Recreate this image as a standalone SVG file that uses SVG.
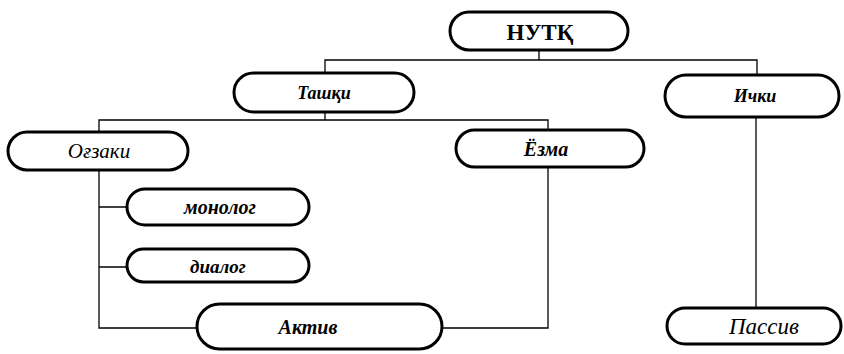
<svg xmlns="http://www.w3.org/2000/svg" width="844" height="354" viewBox="0 0 844 354">
  <style>
    .box { fill: #fff; stroke: #000; stroke-width: 3; }
    .lbl { font-family: "Liberation Serif", "Times New Roman", serif; font-style: italic; font-weight: bold; font-size: 18px; fill: #000; text-anchor: middle; dominant-baseline: central; }
    .lnk { fill: none; stroke: #000; stroke-width: 1.3; }
  </style>
  <rect width="844" height="354" fill="#fff"/>

  <g id="connectors">
    <path class="lnk" d="M539 50 V60 M325 73 V60 H757 V75"/>
    <path class="lnk" d="M325 112 V120 M99 132 V120 H548 V130"/>
    <path class="lnk" d="M99 170 V328 H197 M99 207 H127 M99 267 H127"/>
    <path class="lnk" d="M548 167 V328 H442"/>
    <path class="lnk" d="M756 117 V308"/>
  </g>

  <g id="n-nutq">
    <rect class="box" x="450" y="12" width="178" height="38" rx="19"/>
    <text class="lbl" x="540" y="32" style="font-style:normal;font-size:23px">НУТҚ</text>
  </g>
  <g id="n-tashqi">
    <rect class="box" x="234" y="73" width="180" height="39" rx="19.5"/>
    <text class="lbl" x="324" y="93">Ташқи</text>
  </g>
  <g id="n-ichki">
    <rect class="box" x="665" y="75" width="174" height="42" rx="21"/>
    <text class="lbl" x="755" y="96">Ички</text>
  </g>
  <g id="n-ogzaki">
    <rect class="box" x="8" y="132" width="180" height="38" rx="19"/>
    <text class="lbl" x="99" y="151" style="font-weight:normal;font-size:21px">Оғзаки</text>
  </g>
  <g id="n-yozma">
    <rect class="box" x="456" y="130" width="188" height="37" rx="18.5"/>
    <text class="lbl" x="546" y="149" style="font-size:20px">Ёзма</text>
  </g>
  <g id="n-monolog">
    <rect class="box" x="127" y="189" width="182" height="36" rx="18"/>
    <text class="lbl" x="220" y="207" style="font-size:20px">монолог</text>
  </g>
  <g id="n-dialog">
    <rect class="box" x="127" y="249" width="182" height="33" rx="16.5"/>
    <text class="lbl" x="218" y="266" style="font-size:19px">диалог</text>
  </g>
  <g id="n-aktiv">
    <rect class="box" x="197" y="304" width="245" height="45" rx="22.5"/>
    <text class="lbl" x="308" y="327" style="font-size:20px">Актив</text>
  </g>
  <g id="n-passiv">
    <rect class="box" x="667" y="308" width="174" height="36" rx="18"/>
    <text class="lbl" x="764" y="326" style="font-weight:normal;font-size:23px">Пассив</text>
  </g>
</svg>
